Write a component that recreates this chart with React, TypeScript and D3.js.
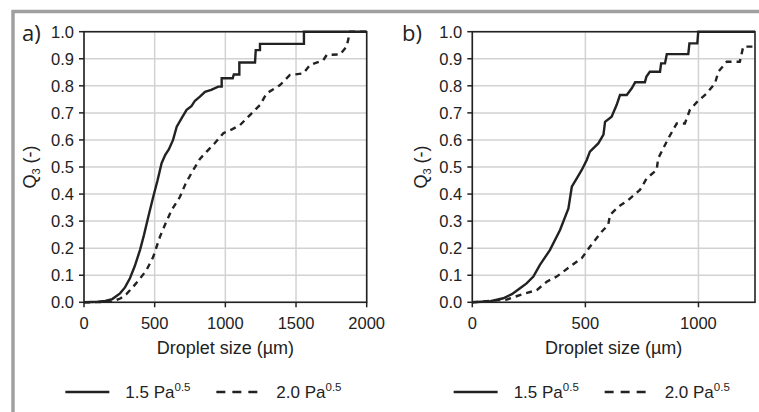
import React from 'react'
import * as d3 from 'd3'

// droplet size (µm) vs cumulative volume fraction Q3
const sizeA15 = [0, 100, 150, 200, 255, 290, 325, 360, 396, 425, 455, 490, 520, 549, 575, 600, 630, 656, 690, 726, 760, 785, 820, 856, 900, 950, 974, 974, 1052, 1060, 1099, 1099, 1210, 1215, 1245, 1245, 1556, 1556, 2000]
const q3A15 = [0, 0.002, 0.005, 0.012, 0.033, 0.055, 0.089, 0.135, 0.193, 0.25, 0.316, 0.39, 0.45, 0.514, 0.545, 0.565, 0.6, 0.649, 0.68, 0.711, 0.725, 0.745, 0.76, 0.778, 0.785, 0.797, 0.797, 0.828, 0.828, 0.842, 0.842, 0.886, 0.886, 0.932, 0.932, 0.955, 0.955, 1.0, 1.0]

const sizeA20 = [0, 200, 260, 300, 349, 400, 443, 490, 537, 580, 620, 679, 720, 773, 820, 868, 920, 986, 1050, 1104, 1174, 1245, 1292, 1387, 1457, 1552, 1599, 1693, 1717, 1811, 1858, 1882, 2000]
const q3A20 = [0, 0.002, 0.015, 0.03, 0.058, 0.09, 0.12, 0.168, 0.242, 0.295, 0.341, 0.39, 0.44, 0.489, 0.53, 0.557, 0.585, 0.625, 0.64, 0.655, 0.692, 0.729, 0.772, 0.803, 0.84, 0.846, 0.877, 0.895, 0.914, 0.916, 0.945, 1.0, 1.0]

const sizeB15 = [0, 80, 137, 175, 211, 240, 270, 299, 343, 388, 425, 440, 460, 484, 506, 520, 557, 580, 587, 616, 638, 653, 683, 705, 720, 763, 770, 785, 830, 835, 852, 860, 955, 960, 995, 999, 1250]
const q3B15 = [0, 0.004, 0.015, 0.03, 0.052, 0.07, 0.095, 0.138, 0.193, 0.267, 0.347, 0.427, 0.455, 0.489, 0.526, 0.557, 0.587, 0.62, 0.667, 0.686, 0.729, 0.766, 0.766, 0.791, 0.813, 0.813, 0.834, 0.852, 0.852, 0.883, 0.883, 0.917, 0.917, 0.957, 0.957, 1.0, 1.0]

const sizeB20 = [0, 152, 225, 285, 329, 373, 432, 484, 520, 572, 601, 609, 646, 690, 741, 771, 815, 822, 867, 904, 940, 962, 992, 1036, 1073, 1088, 1125, 1183, 1198, 1250]
const q3B20 = [0, 0.01, 0.031, 0.045, 0.076, 0.095, 0.132, 0.163, 0.205, 0.261, 0.286, 0.323, 0.353, 0.378, 0.415, 0.458, 0.489, 0.532, 0.606, 0.661, 0.661, 0.711, 0.739, 0.772, 0.809, 0.852, 0.889, 0.889, 0.945, 0.945]

const yTicks = [0, 0.1, 0.2, 0.3, 0.4, 0.5, 0.6, 0.7, 0.8, 0.9, 1.0]
const xTicksA = [0, 500, 1000, 1500, 2000]
const xTicksB = [0, 500, 1000]
const seriesLabels = ['1.5 Pa', '2.0 Pa']

const FONT = 'Liberation Sans, Arial, sans-serif'
const INK = '#222'

const zip = (xs: number[], ys: number[]) => xs.map((x, i) => [x, ys[i]] as [number, number])

function Panel({ tag, left, right, xMax, xTicks, s15, s20, yTitleX, tagX }: any) {
  const x = d3.scaleLinear().domain([0, xMax]).range([left, right])
  const y = d3.scaleLinear().domain([0, 1]).range([302.3, 31.7])
  const line = d3.line<[number, number]>().x(d => x(d[0])).y(d => y(d[1]))
  const cy = (y(0) + y(1)) / 2
  const legY = 392
  const legX = (left + right) / 2 - 160
  return (
    <g>
      {yTicks.map(t => (
        <line key={'gy' + t} x1={left} x2={right} y1={y(t)} y2={y(t)} stroke="#d2d2d2" strokeWidth={1.5} />
      ))}
      {xTicks.map((t: number) => (
        <line key={'gx' + t} x1={x(t)} x2={x(t)} y1={y(0)} y2={y(1)} stroke="#d2d2d2" strokeWidth={1.5} />
      ))}
      <rect x={left} y={y(1)} width={right - left} height={y(0) - y(1)} fill="none" stroke={INK} strokeWidth={1.6} />
      {yTicks.map(t => (
        <g key={'ty' + t}>
          <line x1={left - 5} x2={left} y1={y(t)} y2={y(t)} stroke={INK} strokeWidth={1.5} />
          <text x={left - 10} y={y(t)} dy="0.36em" textAnchor="end" fontSize={16.5} fontFamily={FONT} fill={INK}>
            {t.toFixed(1)}
          </text>
        </g>
      ))}
      {xTicks.map((t: number) => (
        <g key={'tx' + t}>
          <line x1={x(t)} x2={x(t)} y1={y(0)} y2={y(0) + 5} stroke={INK} strokeWidth={1.5} />
          <text x={x(t)} y={329} textAnchor="middle" fontSize={16.5} fontFamily={FONT} fill={INK}>
            {t}
          </text>
        </g>
      ))}
      <path d={line(zip(s15[0], s15[1])) || ''} fill="none" stroke={INK} strokeWidth={2.4} />
      <path d={line(zip(s20[0], s20[1])) || ''} fill="none" stroke={INK} strokeWidth={2.4} strokeDasharray="6,5" />
      <text x={(left + right) / 2} y={354} textAnchor="middle" fontSize={18} fontFamily={FONT} fill={INK}>
        Droplet size (µm)
      </text>
      <text transform={`translate(${yTitleX},${cy}) rotate(-90)`} textAnchor="middle" fontSize={18} fontFamily={FONT} fill={INK}>
        Q<tspan fontSize={11} dy={4}>3</tspan>
        <tspan dy={-4}> (-)</tspan>
      </text>
      <text x={tagX} y={41} fontSize={22} fontFamily="Open Sans, sans-serif" fill={INK}>
        {tag}
      </text>
      {seriesLabels.map((lab, i) => {
        const lx = legX + i * 151
        return (
          <g key={lab}>
            <line x1={lx} x2={lx + 44} y1={legY} y2={legY} stroke={INK} strokeWidth={2.4} strokeDasharray={i ? '9,7' : undefined} />
            <text x={lx + 60} y={legY + 6} fontSize={17} fontFamily={FONT} fill={INK}>
              {lab}
              <tspan fontSize={11.5} dy={-7}>0.5</tspan>
            </text>
          </g>
        )
      })}
    </g>
  )
}

export default function App() {
  return (
    <svg width={759} height={412} style={{ position: 'absolute', left: 0, top: 0, background: '#fff' }}>
      <line x1={12} x2={759} y1={11.5} y2={11.5} stroke="#a0a0a0" strokeWidth={3.5} />
      <line x1={13} x2={13} y1={10} y2={412} stroke="#a0a0a0" strokeWidth={3.5} />
      <Panel tag="a)" left={84} right={366.7} xMax={2000} xTicks={xTicksA} s15={[sizeA15, q3A15]} s20={[sizeA20, q3A20]} yTitleX={36} tagX={22} />
      <Panel tag="b)" left={472.3} right={755} xMax={1250} xTicks={xTicksB} s15={[sizeB15, q3B15]} s20={[sizeB20, q3B20]} yTitleX={427} tagX={402} />
    </svg>
  )
}
